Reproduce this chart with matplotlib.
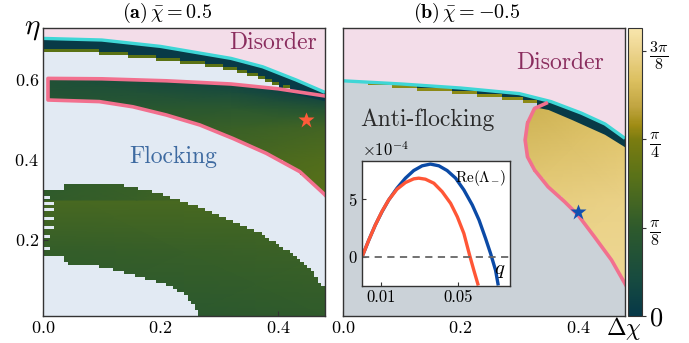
import numpy as np
import matplotlib
matplotlib.use('Agg')
import matplotlib.pyplot as plt
from matplotlib.colors import LinearSegmentedColormap, Normalize, to_rgba
from matplotlib.path import Path
import matplotlib.cm as cm

plt.rcParams.update({
    'font.family': 'serif',
    'font.serif': ['cmr10'],
    'mathtext.fontset': 'cm',
    'axes.formatter.use_mathtext': True,
    'axes.unicode_minus': False,
})

# ---------------- data ----------------
# colour scale of Delta chi
DCHI_MAX = 1.28
cmap_pos = [0.0, 0.154, 0.393, 0.625, 0.785, 0.85, 0.93, 1.05, 1.178, 1.28]
cmap_hex = ['#063848', '#164a40', '#2e5a2c', '#5a7218', '#7a7c10', '#a08c14',
            '#c0a440', '#dcc060', '#ecd48e', '#f8e6ac']

# panel (a), chi_bar = 0.5
cyan_a_x = [0.0, 0.1, 0.2, 0.32, 0.374, 0.431, 0.48]
cyan_a_eta = [0.704, 0.700, 0.684, 0.654, 0.633, 0.600, 0.569]
band_a_x = [0.0, 0.1, 0.17, 0.27, 0.32, 0.37, 0.414, 0.48]
band_a_eta = [0.672, 0.666, 0.655, 0.638, 0.625, 0.605, 0.578, 0.555]
loop_top_x = [0.0085, 0.1, 0.21, 0.32, 0.40, 0.48]
loop_top_eta = [0.604, 0.603, 0.598, 0.590, 0.578, 0.560]
loop_bot_x = [0.0085, 0.096, 0.153, 0.21, 0.267, 0.323, 0.38, 0.437, 0.477, 0.485]
loop_bot_eta = [0.550, 0.546, 0.533, 0.5125, 0.4875, 0.454, 0.4167, 0.371, 0.317, 0.305]
blob_x = [0.0, 0.034, 0.034, 0.11, 0.15, 0.19, 0.24, 0.28, 0.32, 0.36, 0.40, 0.44, 0.465, 0.48,
          0.49, 0.49, 0.272, 0.255, 0.235, 0.21, 0.176, 0.14, 0.10, 0.038, 0.038, 0.0]
blob_eta = [0.327, 0.327, 0.342, 0.342, 0.333, 0.320, 0.296, 0.274, 0.250, 0.224, 0.190, 0.148,
            0.110, 0.075, 0.075, 0.0, 0.0, 0.042, 0.070, 0.088, 0.104, 0.118, 0.133, 0.142,
            0.150, 0.150]
# empty rows cutting into the left edge of the lower domain
notch_eta = [0.309, 0.288, 0.274, 0.254, 0.233, 0.210, 0.179, 0.157]
notch_len = [0.010, 0.016, 0.020, 0.016, 0.020, 0.010, 0.012, 0.036]
# Delta chi sampled inside the upper loop and the lower green domain
loop_gx = [0.0, 0.16, 0.32, 0.48]
loop_geta = [0.30, 0.40, 0.48, 0.53, 0.57, 0.615]
loop_gval = [[0.40, 0.45, 0.55, 0.62],
             [0.38, 0.43, 0.52, 0.58],
             [0.34, 0.40, 0.45, 0.50],
             [0.30, 0.34, 0.36, 0.28],
             [0.28, 0.26, 0.20, 0.04],
             [0.26, 0.15, 0.06, 0.00]]
blob_gx = [0.0, 0.24, 0.48]
blob_geta = [0.01, 0.17, 0.345]
blob_gval = [[0.36, 0.36, 0.40],
             [0.42, 0.44, 0.47],
             [0.57, 0.56, 0.55]]
star_a = (0.448, 0.50)

# panel (b), chi_bar = -0.5
cyan_b_x = [0.0, 0.1, 0.2, 0.3, 0.354, 0.406, 0.446, 0.48]
cyan_b_eta = [0.598, 0.590, 0.580, 0.566, 0.546, 0.517, 0.490, 0.454]
band_b_x = [0.0, 0.05, 0.1, 0.2, 0.3, 0.35, 0.39, 0.446, 0.48]
band_b_eta = [0.598, 0.590, 0.580, 0.567, 0.548, 0.533, 0.508, 0.471, 0.440]
edge_b_x = [0.346, 0.326, 0.314, 0.31, 0.314, 0.326, 0.349, 0.377, 0.40, 0.428, 0.457, 0.483]
edge_b_eta = [0.542, 0.529, 0.492, 0.450, 0.408, 0.375, 0.333, 0.296, 0.2625, 0.208, 0.150, 0.083]
yel_gx = [0.30, 0.48]
yel_geta = [0.07, 0.30, 0.56]
yel_gval = [[1.20, 1.20],
            [1.12, 1.16],
            [0.97, 1.04]]
star_b = (0.40, 0.27)

# inset: growth rate Re(Lambda_-) (units of 1e-4) against q
q_blue = [0.0, 0.0035, 0.0069, 0.0104, 0.0139, 0.0182, 0.0226, 0.0269, 0.0313, 0.0356,
          0.0400, 0.0443, 0.0487, 0.0530, 0.0574, 0.0609, 0.0643, 0.0669, 0.0695, 0.0709]
re_blue = [0.0, 1.45, 2.76, 3.92, 4.94, 5.96, 6.83, 7.49, 7.90, 8.05,
           7.90, 7.49, 6.83, 5.81, 4.50, 3.20, 1.60, 0.30, -1.16, -2.47]
q_red = [0.0, 0.0035, 0.0069, 0.0104, 0.0139, 0.0182, 0.0226, 0.0269, 0.0295, 0.0330,
         0.0374, 0.0417, 0.0461, 0.0496, 0.0530, 0.0560, 0.0582, 0.0605]
re_red = [0.0, 1.45, 2.76, 3.95, 4.95, 5.87, 6.45, 6.77, 6.83, 6.74,
          6.39, 5.66, 4.65, 3.48, 2.04, 0.15, -1.16, -2.47]

# ---------------- styling ----------------
cmap = LinearSegmentedColormap.from_list(
    'dchi', list(zip(np.array(cmap_pos) / DCHI_MAX, cmap_hex)))
norm = Normalize(0, DCHI_MAX)
PINK_BG = '#f3dde9'
FLOCK_BG = '#e2eaf3'
ANTI_BG = '#cbd2d8'
CYAN = '#3fd6d6'
ROSE = '#f2708e'
XLIM = (0.0, 0.48)
YLIM = (0.01, 0.73)

# coarse grid on which the phase diagram was sampled
x_edges = np.linspace(XLIM[0], XLIM[1], 81)
eta_edges = np.linspace(YLIM[0], YLIM[1], 97)
XC, EC = np.meshgrid(0.5 * (x_edges[1:] + x_edges[:-1]),
                     0.5 * (eta_edges[1:] + eta_edges[:-1]))
cell_pts = np.column_stack([XC.ravel(), EC.ravel()])
d_eta = eta_edges[1] - eta_edges[0]


def cells_inside(xs, ys):
    return Path(np.column_stack([xs, ys])).contains_points(cell_pts).reshape(XC.shape)


def gradient(ax, gx, geta, gval):
    GX, GE = np.meshgrid(gx, geta)
    ax.pcolormesh(GX, GE, np.array(gval), shading='gouraud', cmap=cmap, norm=norm, zorder=1)


def phase_background(ax, cyan_x, cyan_eta, band_x, band_eta, colored, bg_color, fringe_color):
    # ordered band just below the order-disorder line
    ax.fill(np.r_[cyan_x, band_x[::-1]], np.r_[cyan_eta, np.array(band_eta[::-1]) - 0.008],
            color=cmap(norm(0.02)), lw=0, zorder=1.5)
    # disordered phase
    ax.fill(np.r_[cyan_x, [0.49, -0.01]], np.r_[cyan_eta, [0.76, 0.76]],
            color=PINK_BG, lw=0, zorder=2)
    band = cells_inside(np.r_[cyan_x, band_x[::-1]], np.r_[cyan_eta, band_eta[::-1]])
    dis = cells_inside(np.r_[cyan_x, [0.49, -0.01]], np.r_[cyan_eta, [0.76, 0.76]])
    bg = ~(colored | band | dis)
    below_bg = np.zeros_like(bg)
    below_bg[1:] = bg[:-1]
    fringe = band & below_bg
    rgba = np.zeros(bg.shape + (4,))
    rgba[bg] = to_rgba(bg_color)
    rgba[fringe] = to_rgba(fringe_color)
    ax.imshow(rgba, origin='lower', extent=(*XLIM, *YLIM), interpolation='nearest',
              aspect='auto', zorder=3)
    ax.plot(cyan_x, cyan_eta, color=CYAN, lw=2.4, zorder=4, solid_capstyle='butt')


def style_axes(ax):
    ax.set_xlim(*XLIM)
    ax.set_ylim(*YLIM)
    ax.set_xticks([0.0, 0.2, 0.4])
    ax.set_yticks([0.2, 0.4, 0.6])
    ax.tick_params(direction='in', length=3.5, width=0.8, labelsize=13, pad=3, color='#333333')
    for s in ax.spines.values():
        s.set_color('#333333')
        s.set_linewidth(1.0)
        s.set_zorder(6)


fig = plt.figure(figsize=(6.89, 3.43), dpi=100)
ax_a = fig.add_axes([43 / 689, 27 / 343, 282 / 689, 288 / 343])
ax_b = fig.add_axes([343 / 689, 27 / 343, 282 / 689, 288 / 343])
cax = fig.add_axes([628 / 689, 27 / 343, 14 / 689, 288 / 343])
ax_in = fig.add_axes([362 / 689, 57.5 / 343, 148 / 689, 125 / 343])

# ---------- panel (a) ----------
ax_a.set_facecolor(FLOCK_BG)
gradient(ax_a, blob_gx, blob_geta, blob_gval)
gradient(ax_a, loop_gx, loop_geta, loop_gval)
loop_x = np.r_[loop_top_x[::-1], loop_bot_x]
loop_eta = np.r_[loop_top_eta[::-1], loop_bot_eta]
blob = cells_inside(blob_x, blob_eta)
for ne, nl in zip(notch_eta, notch_len):
    blob &= ~((np.abs(EC - ne) < d_eta / 2) & (XC < nl))
colored_a = cells_inside(np.r_[loop_x, [0.49, 0.49]], np.r_[loop_eta, [0.30, 0.56]]) | blob
phase_background(ax_a, cyan_a_x, cyan_a_eta, band_a_x, band_a_eta, colored_a,
                 FLOCK_BG, '#5a7214')
ax_a.plot(loop_x, loop_eta, color=ROSE, lw=2.6, zorder=4, solid_joinstyle='round')
ax_a.plot(*star_a, marker='*', ms=12, color='#ff5a3a', mec='none', zorder=5)
ax_a.text(0.391, 0.6925, 'Disorder', color='#8a2d5e', fontsize=17, ha='center', va='center', zorder=5)
ax_a.text(0.221, 0.408, 'Flocking', color='#3d6aa0', fontsize=17, ha='center', va='center', zorder=5)
ax_a.text(0.44, 1.01, r'$\mathbf{(a)}\,\bar{\chi} = 0.5$', transform=ax_a.transAxes,
          ha='center', va='bottom', fontsize=14.5)
style_axes(ax_a)

# ---------- panel (b) ----------
ax_b.set_facecolor(ANTI_BG)
gradient(ax_b, yel_gx, yel_geta, yel_gval)
colored_b = cells_inside(np.r_[[0.346], edge_b_x, [0.49, 0.49]],
                         np.r_[[0.62], edge_b_eta, [0.07, 0.62]])
phase_background(ax_b, cyan_b_x, cyan_b_eta, band_b_x, band_b_eta, colored_b,
                 ANTI_BG, '#8c8a16')
ax_b.plot(edge_b_x, edge_b_eta, color=ROSE, lw=2.6, zorder=4)
ax_b.plot(*star_b, marker='*', ms=12, color='#1250b0', mec='none', zorder=5)
ax_b.text(0.37, 0.6425, 'Disorder', color='#8a2d5e', fontsize=17, ha='center', va='center', zorder=5)
ax_b.text(0.144, 0.50, 'Anti-flocking', color='#2a2a2a', fontsize=17, ha='center', va='center', zorder=5)
ax_b.text(0.44, 1.01, r'$\mathbf{(b)}\,\bar{\chi} = -0.5$', transform=ax_b.transAxes,
          ha='center', va='bottom', fontsize=14.5)
style_axes(ax_b)
ax_b.tick_params(labelleft=False)

# ---------- inset ----------
ax_in.plot(q_blue, re_blue, color='#0b4aa6', lw=2.4, solid_capstyle='butt')
ax_in.plot(q_red, re_red, color='#ff5636', lw=2.4, solid_capstyle='butt')
ax_in.axhline(0, color='#666666', ls='--', lw=1.3, dashes=(4, 3))
ax_in.set_xlim(0, 0.077)
ax_in.set_ylim(-2.47, 8.36)
ax_in.set_xticks([0.01, 0.05])
ax_in.set_xticklabels(['0.01', '0.05'])
ax_in.set_yticks([0, 5])
ax_in.tick_params(direction='in', length=3, width=0.8, labelsize=12, pad=3, color='#333333')
for s in ax_in.spines.values():
    s.set_color('#333333')
    s.set_linewidth(1.0)
ax_in.text(0.0, 1.01, r'$\times10^{-4}$', transform=ax_in.transAxes, ha='left', va='bottom', fontsize=12)
ax_in.text(0.97, 0.94, r'$\mathrm{Re}(\Lambda_{-})$', transform=ax_in.transAxes,
           ha='right', va='top', fontsize=11)
ax_in.text(0.97, 0.04, r'$q$', transform=ax_in.transAxes, ha='right', va='bottom', fontsize=15)

# ---------- colour bar ----------
cb = fig.colorbar(cm.ScalarMappable(norm=norm, cmap=cmap), cax=cax)
cb.set_ticks([0, np.pi / 8, np.pi / 4, 3 * np.pi / 8])
cb.set_ticklabels([r'$0$', r'$\frac{\pi}{8}$', r'$\frac{\pi}{4}$', r'$\frac{3\pi}{8}$'])
cax.tick_params(direction='out', length=3, width=0.8, labelsize=16.5, pad=2, color='#333333')
cax.get_yticklabels()[0].set_fontsize(19)
cb.outline.set_edgecolor('#333333')
cb.outline.set_linewidth(0.8)

fig.text(32 / 689, 1 - 29 / 343, r'$\eta$', fontsize=21, ha='center', va='center')
fig.text(624 / 689, 1 - 329 / 343, r'$\Delta\chi$', fontsize=17, ha='center', va='center')

fig.savefig('out.png', dpi=100)
